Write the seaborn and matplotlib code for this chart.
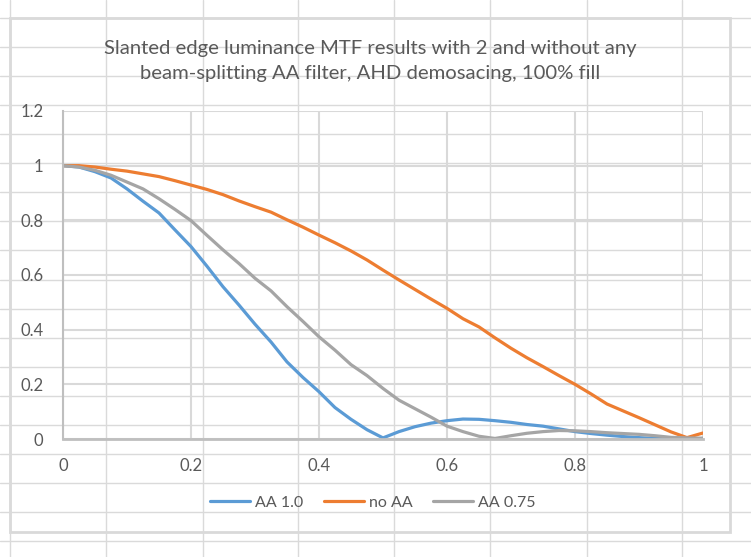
import matplotlib
matplotlib.use("Agg")
import matplotlib.pyplot as plt
import pandas as pd
import seaborn as sns
from matplotlib.patches import Rectangle

# spatial frequency (cycles/pixel)
freq = [0.0, 0.025, 0.05, 0.075, 0.1, 0.125, 0.15, 0.175, 0.2, 0.225,
        0.25, 0.275, 0.3, 0.325, 0.35, 0.375, 0.4, 0.425, 0.45, 0.475,
        0.5, 0.525, 0.55, 0.575, 0.6, 0.625, 0.65, 0.675, 0.7, 0.725,
        0.75, 0.775, 0.8, 0.825, 0.85, 0.875, 0.9, 0.925, 0.95, 0.975, 1.0]

aa_10 = [1.0, 0.995, 0.978, 0.955, 0.915, 0.87, 0.827, 0.765, 0.704, 0.632,
         0.557, 0.49, 0.42, 0.355, 0.282, 0.225, 0.173, 0.115, 0.072, 0.034,
         0.004, 0.027, 0.045, 0.058, 0.067, 0.073, 0.072, 0.067, 0.061, 0.053,
         0.047, 0.037, 0.027, 0.02, 0.014, 0.009, 0.005, 0.002, 0.001, 0.0, 0.0]

no_aa = [1.0, 1.0, 0.995, 0.987, 0.98, 0.97, 0.96, 0.945, 0.929, 0.913,
         0.894, 0.871, 0.85, 0.83, 0.802, 0.775, 0.746, 0.718, 0.688, 0.655,
         0.618, 0.582, 0.547, 0.512, 0.478, 0.44, 0.41, 0.37, 0.332, 0.297,
         0.265, 0.232, 0.2, 0.165, 0.128, 0.103, 0.078, 0.052, 0.026, 0.005, 0.022]

aa_075 = [1.0, 0.995, 0.983, 0.965, 0.94, 0.915, 0.879, 0.84, 0.799, 0.745,
          0.692, 0.642, 0.588, 0.542, 0.484, 0.43, 0.374, 0.325, 0.272, 0.232,
          0.185, 0.142, 0.111, 0.08, 0.047, 0.027, 0.01, 0.002, 0.012, 0.021,
          0.027, 0.031, 0.03, 0.027, 0.023, 0.02, 0.017, 0.012, 0.006, 0.004, 0.003]

series = ["AA 1.0", "no AA", "AA 0.75"]
colors = ["#5B9BD5", "#ED7D31", "#A5A5A5"]

title = ("Slanted edge luminance MTF results with 2 and without any\n"
         "beam-splitting AA filter, AHD demosacing, 100% fill")

df = pd.concat([
    pd.DataFrame({"freq": freq, "mtf": aa_10, "series": series[0]}),
    pd.DataFrame({"freq": freq, "mtf": no_aa, "series": series[1]}),
    pd.DataFrame({"freq": freq, "mtf": aa_075, "series": series[2]}),
], ignore_index=True)

sns.set_style("white")
plt.rcParams["font.family"] = ["Lato", "DejaVu Sans"]

W, H = 751, 557
fig = plt.figure(figsize=(W / 100, H / 100), dpi=100)

# spreadsheet cells behind the chart
bg = fig.add_axes([0, 0, 1, 1])
bg.set_xlim(0, W)
bg.set_ylim(H, 0)
bg.axis("off")
for x in [10, 106, 203, 298, 394, 490, 587, 682]:
    bg.axvline(x, color="#dadada", lw=1)
for k in range(20):
    bg.axhline(18 + 29.06 * k, color="#dadada", lw=1)
bg.add_patch(Rectangle((10, 18), 720, 514, facecolor="white",
                       edgecolor="#d9d9d9", lw=2))

ax = fig.add_axes([63 / W, 1 - 439 / H, 640 / W, 328 / H])
ax.set_facecolor("none")
sns.lineplot(data=df, x="freq", y="mtf", hue="series", hue_order=series,
             palette=colors, linewidth=2.3, ax=ax)

ax.set_xlim(0, 1)
ax.set_ylim(0, 1.2)
ax.set_xticks([0, 0.2, 0.4, 0.6, 0.8, 1])
ax.set_xticklabels(["0", "0.2", "0.4", "0.6", "0.8", "1"])
ax.set_yticks([0, 0.2, 0.4, 0.6, 0.8, 1, 1.2])
ax.set_yticklabels(["0", "0.2", "0.4", "0.6", "0.8", "1", "1.2"])
ax.grid(True, color="#d9d9d9", lw=1.5)
ax.set_axisbelow(True)
for s in ["top", "right"]:
    ax.spines[s].set_visible(False)
ax.spines["left"].set_color("#bfbfbf")
ax.spines["left"].set_linewidth(1.5)
ax.spines["bottom"].set_color("#bfbfbf")
ax.spines["bottom"].set_linewidth(2)
ax.tick_params(axis="both", length=0, labelsize=12, labelcolor="#595959")
ax.tick_params(axis="y", pad=14)
ax.tick_params(axis="x", pad=14)
ax.set_xlabel("")
ax.set_ylabel("")

handles, labels = ax.get_legend_handles_labels()
ax.get_legend().remove()
fig.legend(handles, labels, loc="center", bbox_to_anchor=(373 / W, 1 - 503 / H),
           ncol=3, frameon=False, fontsize=11.5, handlelength=2.5,
           handletextpad=0.3, columnspacing=1.3, labelcolor="#595959")

fig.text(370 / W, 1 - 61 / H, title, ha="center", va="center",
         fontsize=14.6, color="#595959", linespacing=1.55)

fig.savefig("out.png", dpi=100)
